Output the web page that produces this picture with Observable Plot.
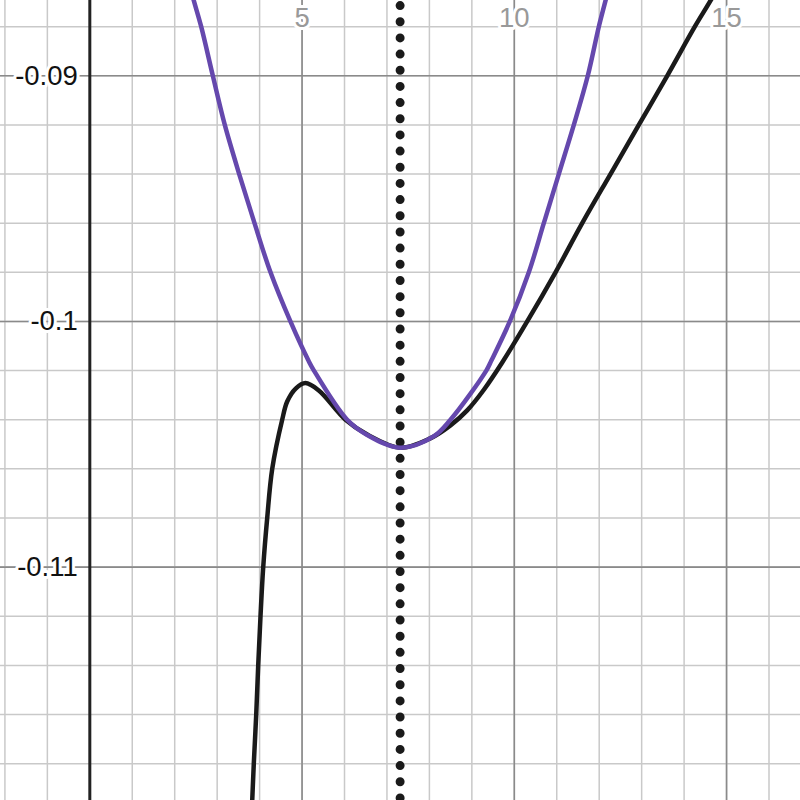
<!DOCTYPE html>
<html>
<head>
<meta charset="utf-8">
<script src="https://cdn.jsdelivr.net/npm/d3@7"></script>
<script src="https://cdn.jsdelivr.net/npm/@observablehq/plot@0.6"></script>
<style>
  html, body { margin: 0; padding: 0; background: #fff; }
  #chart svg { display: block; }
</style>
</head>
<body>
<div id="chart"></div>
<script>
// ---- data ----
const xMinor = [-2,-1,0,1,2,3,4,5,6,7,8,9,10,11,12,13,14,15,16];
const xMajor = [0,5,10,15];
const yMinor = [-0.088,-0.090,-0.092,-0.094,-0.096,-0.098,-0.100,-0.102,-0.104,-0.106,-0.108,-0.110,-0.112,-0.114,-0.116,-0.118];
const yMajor = [-0.09,-0.10,-0.11];
const xLabels = ["5","10","15"];
const xLabelValues = [5,10,15];
const yLabels = ["-0.09","-0.1","-0.11"];
const yLabelValues = [-0.09,-0.10,-0.11];
const dottedX = [7.31];

// black curve f(x)
const fX = [3.786,3.826,3.863,3.920,3.967,4.021,4.085,4.179,4.297,4.532,4.650,4.850,5.081,5.395,6.024,6.535,7.310,8.009,8.496,8.890,9.274,9.715,10.304,10.971,11.600,12.266,12.933,13.602,14.252,14.622,15.022];
const fY = [-0.12113,-0.11950,-0.11800,-0.11600,-0.11400,-0.11200,-0.11000,-0.10800,-0.10600,-0.10400,-0.10326,-0.10273,-0.10251,-0.10281,-0.10400,-0.10460,-0.10514,-0.10477,-0.10423,-0.10362,-0.10280,-0.10167,-0.10000,-0.09800,-0.09600,-0.09400,-0.09200,-0.09000,-0.08800,-0.08694,-0.08571];

// purple curve (quadratic approximation)
const pX = [2.254,2.450,2.624,2.898,3.180,3.519,3.880,4.257,4.726,5.150,5.280,6.063,6.535,7.310,8.100,8.497,9.340,9.460,9.894,10.342,10.695,11.048,11.402,11.731,11.991,12.149,12.330];
const pY = [-0.08571,-0.08694,-0.08800,-0.09000,-0.09200,-0.09400,-0.09600,-0.09800,-0.10000,-0.10159,-0.10200,-0.10400,-0.10462,-0.10514,-0.10468,-0.10400,-0.10200,-0.10159,-0.10000,-0.09800,-0.09600,-0.09400,-0.09200,-0.09000,-0.08800,-0.08694,-0.08571];

const fData = fX.map((x, i) => ({x, y: fY[i]}));
const pData = pX.map((x, i) => ({x, y: pY[i]}));
const xLab = xLabels.map((t, i) => ({x: xLabelValues[i], t}));
const yLab = yLabels.map((t, i) => ({y: yLabelValues[i], t}));

const font = "'Liberation Sans', Arial, sans-serif";

const chart = Plot.plot({
  width: 800,
  height: 800,
  margin: 0,
  style: {background: "#fff", fontFamily: font},
  x: {domain: [-2.104, 16.742], axis: null},
  y: {domain: [-0.11950, -0.086935], axis: null},
  marks: [
    Plot.ruleX(xMinor, {stroke: "#c9c9c9", strokeWidth: 1.5}),
    Plot.ruleY(yMinor, {stroke: "#c9c9c9", strokeWidth: 1.5}),
    Plot.ruleX(xMajor, {stroke: "#8a8a8a", strokeWidth: 1.6}),
    Plot.ruleY(yMajor, {stroke: "#8a8a8a", strokeWidth: 1.6}),
    Plot.ruleX([0], {stroke: "#222", strokeWidth: 3}),
    Plot.ruleX(dottedX, {stroke: "#1a1a1a", strokeWidth: 9, strokeLinecap: "round", strokeDasharray: "0 16.17", strokeDashoffset: 10.6}),
    Plot.line(fData, {x: "x", y: "y", stroke: "#1a1a1a", strokeWidth: 4.5, curve: "catmull-rom", clip: true}),
    Plot.line(pData, {x: "x", y: "y", stroke: "#6548ad", strokeWidth: 4.5, curve: "catmull-rom", clip: true}),
    Plot.text(xLab, {x: "x", text: "t", frameAnchor: "top", lineAnchor: "middle", dy: 18, fontSize: 27.5, fill: "#999", stroke: "#fff", strokeWidth: 6, fontFamily: font}),
    Plot.text(yLab, {x: 0, y: "y", text: "t", textAnchor: "end", lineAnchor: "middle", dx: -12, fontSize: 27.5, fill: "#111", stroke: "#fff", strokeWidth: 6, fontFamily: font})
  ]
});
document.getElementById("chart").appendChild(chart);
</script>
</body>
</html>
